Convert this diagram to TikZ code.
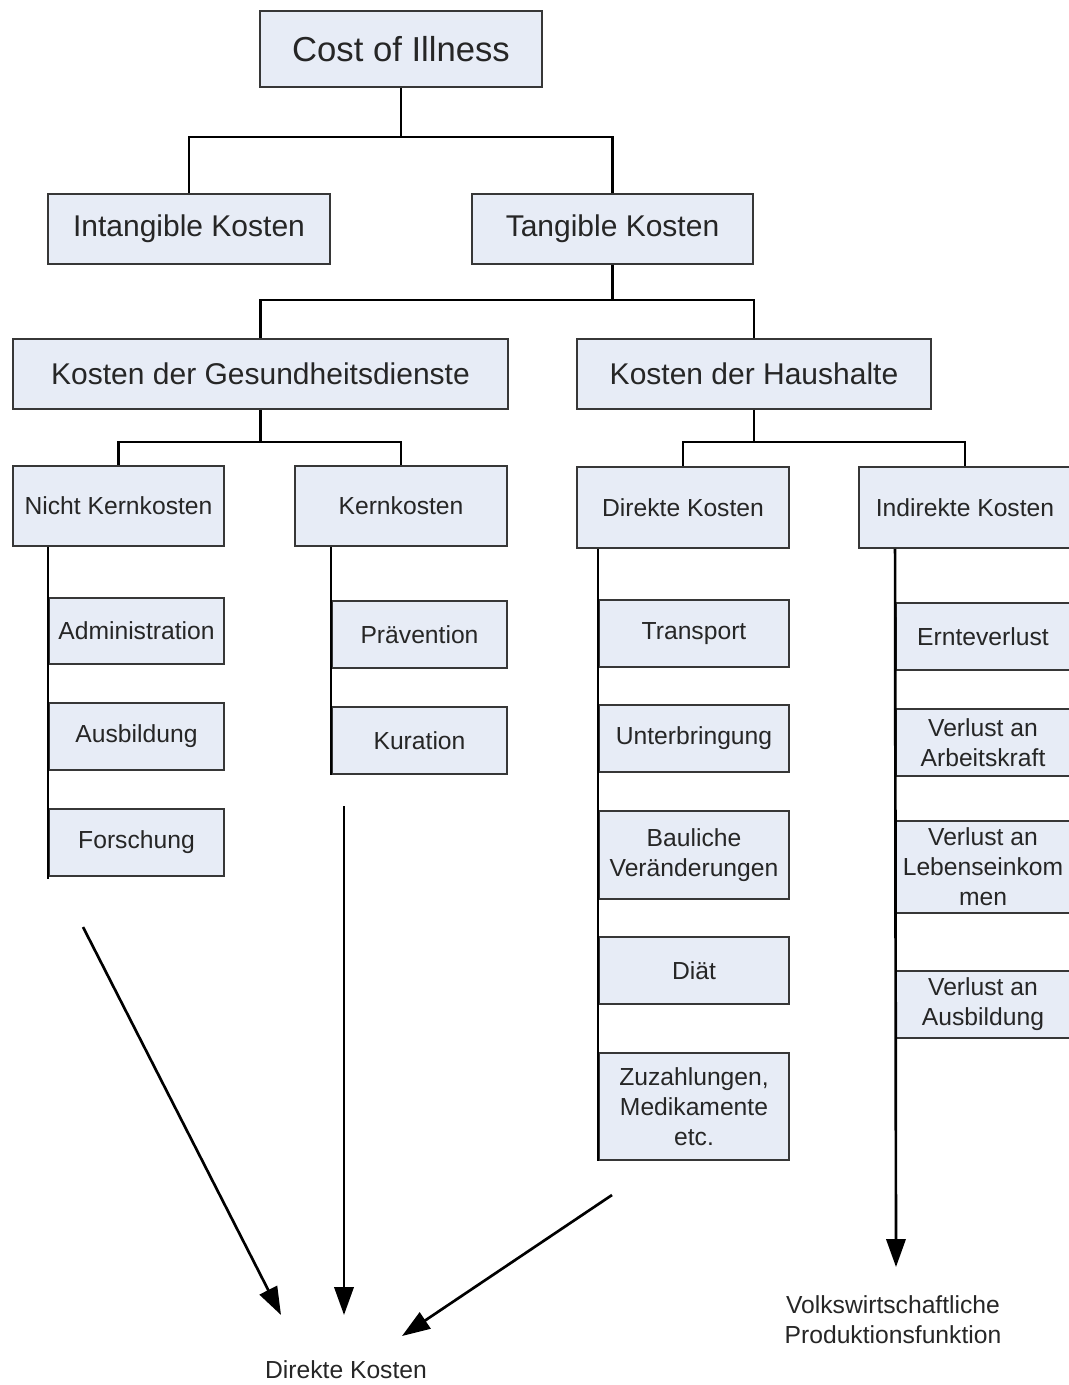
\documentclass[tikz,border=0pt]{standalone}
\usepackage{fontspec}
\setmainfont{Liberation Sans}
\usetikzlibrary{arrows.meta}
\definecolor{boxfill}{RGB}{231,236,246}
\definecolor{boxline}{RGB}{55,55,55}
\definecolor{ink}{RGB}{38,38,38}
\begin{document}
\begin{tikzpicture}[x=0.75pt,y=-0.75pt,
  box/.style 2 args={draw=boxline, fill=boxfill, line width=1.4pt,
    minimum width=#1*0.75pt, minimum height=#2*0.75pt, inner sep=0pt,
    align=center, text=ink, font=\fontsize{18.5}{22.5}\selectfont},
  big/.style={font=\fontsize{26}{30}\selectfont},
  mid/.style={font=\fontsize{22.5}{26}\selectfont},
  conn/.style={draw=black, line width=2pt},
  arr/.style={conn, -{Triangle[length=21pt,width=14.5pt]}},
  lbl/.style={align=center, text=ink, inner sep=0pt, font=\fontsize{18.5}{22.5}\selectfont}]
\useasboundingbox (0,0) rectangle (1069,1385);
\clip (0,0) rectangle (1069,1385);

% ---- boxes ----
\node[box={282}{76}, big] (coi) at (401,49) {Cost of Illness};
\node[box={282}{70}, mid] (intang) at (189,229) {Intangible Kosten};
\node[box={281}{70}, mid] (tang) at (612.5,229) {Tangible Kosten};
\node[box={495}{70}, mid] (kdg) at (260.5,374) {Kosten der Gesundheitsdienste};
\node[box={354}{70}, mid] (kdh) at (754,374) {Kosten der Haushalte};

\node[box={211}{80}] (nk) at (118.5,506) {Nicht Kernkosten};
\node[box={212}{80}] (kk) at (401,506) {Kernkosten};
\node[box={212}{81}] (dk) at (683,507.5) {Direkte Kosten};
\node[box={212}{81}] (idk) at (965,507.5) {Indirekte Kosten};

% ---- tree connectors ----
\draw[conn] (coi.south) -- (coi.south |- 0,137) coordinate (j1) -| (intang.north);
\draw[conn] (j1) -| (tang.north);
\draw[conn] (tang.south) -- (tang.south |- 0,300) coordinate (j2) -| (kdg.north);
\draw[conn] (j2) -| (kdh.north);
\draw[conn] (kdg.south) -- (kdg.south |- 0,442) coordinate (j3) -| (nk.north);
\draw[conn] (j3) -| (kk.north);
\draw[conn] (kdh.south) -- (kdh.south |- 0,442) coordinate (j4) -| (dk.north);
\draw[conn] (j4) -| (idk.north);

% ---- child boxes ----
\node[box={175}{66}] (adm) at (136.5,631) {Administration};
\node[box={175}{67}] (ausb) at (136.5,736.5) {Ausbildung};
\node[box={175}{67}] (forsch) at (136.5,842.5) {Forschung};

\node[box={175}{67}] (prav) at (419.5,634.5) {Prävention};
\node[box={175}{67}] (kur) at (419.5,740.5) {Kuration};

\node[box={190}{67}] (transp) at (694,633.5) {Transport};
\node[box={190}{67}] (unterb) at (694,738.5) {Unterbringung};
\node[box={190}{88}] (baul) at (694,855) {Bauliche\\Veränderungen};
\node[box={190}{67}] (diat) at (694,970.5) {Diät};
\node[box={190}{107}] (zuz) at (694,1106.5) {Zuzahlungen,\\Medikamente\\etc.};

\node[box={174}{67}] (ernte) at (983,636.5) {Ernteverlust};
\node[box={174}{67}] (arbeit) at (983,742.5) {Verlust an\\Arbeitskraft};
\node[box={174}{92}] (leben) at (983,867) {Verlust an\\Lebenseinkom\\men};
\node[box={174}{67}] (ausb2) at (983,1004.5) {Verlust an\\Ausbildung};

% ---- side branches ----
\draw[conn] (nk.south -| adm.west) -- ([yshift=-1.5pt]forsch.south west);
\draw[conn] (kk.south -| prav.west) -- (kur.south west);
\draw[conn] (dk.south -| transp.west) -- (zuz.south west);

% ---- result labels ----
\node[lbl] (dkl) at (346,1370) {Direkte Kosten};
\node[lbl] (vpf) at (893,1320) {Volkswirtschaftliche\\Produktionsfunktion};

% ---- arrows ----
\coordinate (a1s) at (83,927);
\coordinate (a1e) at (281,1315);
\coordinate (a2s) at (344,806);
\coordinate (a2e) at (344,1315);
\coordinate (a3s) at (612,1195);
\coordinate (a3e) at (402,1336);
\coordinate (a4e) at (896,1267);
\draw[arr] (a1s) -- (a1e);
\draw[arr] (a2s) -- (a2e);
\draw[arr] (a3s) -- (a3e);
\draw[arr] (idk.south -| ernte.west) -- (a4e);
\end{tikzpicture}
\end{document}
